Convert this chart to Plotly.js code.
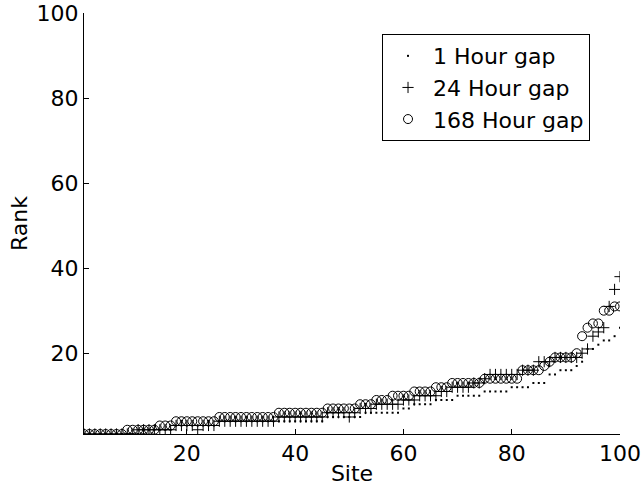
<!DOCTYPE html>
<html>
<head>
<meta charset="utf-8">
<script src="https://cdn.plot.ly/plotly-3.0.1.min.js"></script>
<style>html,body{margin:0;padding:0;background:#fff;}#chart{width:642px;height:492px;}</style>
</head>
<body>
<div id="chart"></div>
<script>
// Site index 1..100
var sites = [];
for (var i = 1; i <= 100; i++) sites.push(i);

// 1 Hour gap ranks
var rank1h = [
 1,1,1,1,1,1,1,1,1,1,
 1,1,2,2,2,2,2,3,3,3,
 3,3,3,3,3,4,4,4,4,4,
 4,4,4,4,4,4,4,4,4,4,
 4,4,4,4,4,5,5,5,5,5,
 5,5,6,6,6,6,6,6,6,7,
 7,8,8,8,8,9,9,9,9,10,
 10,10,10,10,11,11,11,11,11,12,
 12,12,12,13,13,13,15,15,16,16,
 16,17,18,21,21,22,23,23,24,26
];

// 24 Hour gap ranks
var rank24h = [
 1,1,1,1,1,1,1,1,1,1,
 2,2,2,2,2,2,2,3,3,3,
 3,2,3,3,3,4,4,4,4,4,
 4,4,4,4,4,4,5,5,5,5,
 5,5,5,5,5,6,6,6,6,5,
 6,7,7,7,8,8,8,8,8,9,
 9,9,10,10,10,10,11,11,12,12,
 12,12,13,13,14,15,15,15,15,15,
 15,16,16,16,18,18,18,19,19,19,
 19,19,20,21,24,25,26,31,35,38
];

// 168 Hour gap ranks
var rank168h = [
 1,1,1,1,1,1,1,1,2,2,
 2,2,2,2,3,3,3,4,4,4,
 4,4,4,4,4,5,5,5,5,5,
 5,5,5,5,5,5,6,6,6,6,
 6,6,6,6,6,7,7,7,7,7,
 7,8,8,8,9,9,9,10,10,10,
 10,11,11,11,11,12,12,12,13,13,
 13,13,13,13,14,14,14,14,14,14,
 14,16,16,16,16,17,18,19,19,19,
 19,20,24,26,27,27,30,30,31,31
];

var seriesNames = ['1 Hour gap', '24 Hour gap', '168 Hour gap'];
var tickVals = [20, 40, 60, 80, 100];

var fam = '"DejaVu Sans", "Liberation Sans", Arial, sans-serif';
var font = {family: fam, size: 22, color: '#000'};

var traces = [
  {x: sites, y: rank1h, name: seriesNames[0], type: 'scatter', mode: 'markers',
   marker: {symbol: 'square', size: 2, color: '#000', line: {width: 0}}},
  {x: sites, y: rank24h, name: seriesNames[1], type: 'scatter', mode: 'markers',
   marker: {symbol: 'cross-thin-open', size: 8, color: '#000', line: {width: 1, color: '#000'}}},
  {x: sites, y: rank168h, name: seriesNames[2], type: 'scatter', mode: 'markers',
   marker: {symbol: 'circle-open', size: 9, color: '#000', line: {width: 1, color: '#000'}}}
];

var layout = {
  width: 642, height: 492,
  paper_bgcolor: '#fff', plot_bgcolor: '#fff',
  margin: {l: 84, r: 22, t: 13, b: 58, pad: 0},
  font: font,
  showlegend: true,
  legend: {x: 0.556, y: 0.95, xanchor: 'left', yanchor: 'top',
    bordercolor: '#000', borderwidth: 1, bgcolor: '#fff',
    font: {family: fam, size: 22, color: '#000'}, tracegroupgap: 0, itemwidth: 40},
  xaxis: {range: [1, 100], tickvals: tickVals, ticks: 'inside', ticklen: 5, tickcolor: '#000',
    showline: true, linecolor: '#000', linewidth: 1, mirror: false,
    showgrid: false, zeroline: false, tickfont: font,
    title: {text: 'Site', font: font, standoff: 0}},
  yaxis: {range: [1, 100], tickvals: tickVals, ticks: 'inside', ticklen: 5, tickcolor: '#000',
    showline: true, linecolor: '#000', linewidth: 1, mirror: false,
    showgrid: false, zeroline: false, tickfont: font,
    title: {text: 'Rank', font: font, standoff: 2}}
};

Plotly.newPlot('chart', traces, layout, {displayModeBar: false, staticPlot: true});
</script>
</body>
</html>
